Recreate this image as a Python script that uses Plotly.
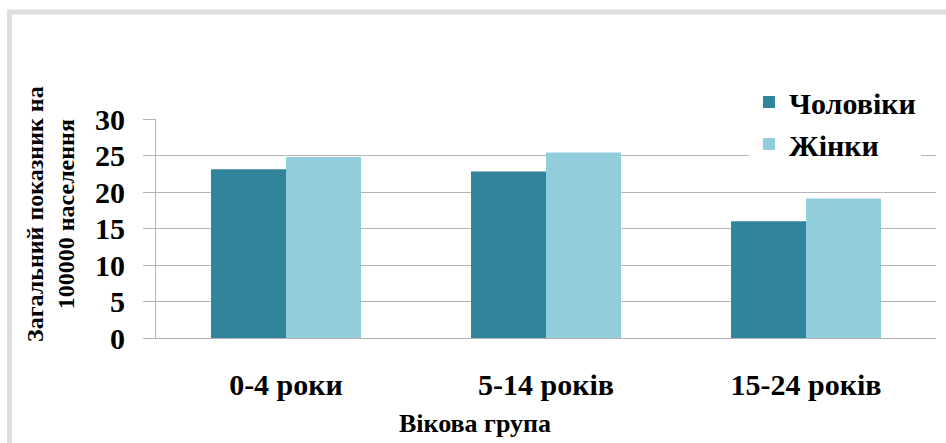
import plotly.graph_objects as go

categories = ["0-4 роки", "5-14 років", "15-24 років"]
men = [23.1, 22.8, 16.0]
women = [24.8, 25.4, 19.1]
series_names = ["Чоловіки", "Жінки"]
y_ticks = [0, 5, 10, 15, 20, 25, 30]

FONT = "Liberation Serif"
W, H = 946, 443
L, R, T, B = 156, 10, 119, 105
PW = W - L - R
PH = H - T - B

def px_x(px):
    return (px - L) / PW

def px_y(py):
    return (H - B - py) / PH

fig = go.Figure()
fig.add_trace(go.Bar(name=series_names[0], x=categories, y=men, marker=dict(color="#31849B", line=dict(width=0))))
fig.add_trace(go.Bar(name=series_names[1], x=categories, y=women, marker=dict(color="#92CDDC", line=dict(width=0))))

fig.update_layout(
    width=W, height=H,
    margin=dict(l=L, r=R, t=T, b=B, pad=0, autoexpand=False),
    paper_bgcolor="white", plot_bgcolor="white",
    barmode="group", bargap=0.423, bargroupgap=0,
    font=dict(family=FONT, color="black", weight="bold"),
    showlegend=True,
    legend=dict(
        x=px_x(749), y=px_y(76), xanchor="left", yanchor="top",
        bgcolor="white", font=dict(family=FONT, size=30, weight="bold", color="black"),
        traceorder="normal", itemclick=False,
    ),
    xaxis=dict(
        automargin=False,
        showline=True, linecolor="#b4b4b4", linewidth=1,
        showgrid=False, ticks="", tickfont=dict(family=FONT, size=30, weight="bold"),
        ticklabelstandoff=20,
    ),
    yaxis=dict(
        automargin=False,
        range=[0, 30], tickvals=y_ticks, showline=True, linecolor="#b4b4b4", linewidth=1,
        showgrid=True, gridcolor="#b4b4b4", gridwidth=1, zeroline=False,
        ticks="outside", ticklen=12, tickcolor="#b4b4b4",
        tickfont=dict(family=FONT, size=30, weight="bold"),
        ticklabelstandoff=12,
    ),
    shapes=[
        dict(type="line", xref="paper", yref="paper", x0=px_x(9.5), x1=px_x(9.5), y0=px_y(10), y1=px_y(450),
             line=dict(color="#dedede", width=5)),
        dict(type="line", xref="paper", yref="paper", x0=px_x(7), x1=px_x(950), y0=px_y(12), y1=px_y(12),
             line=dict(color="#dedede", width=5)),
    ],
    annotations=[
        dict(text="Вікова група", xref="paper", yref="paper", x=px_x(475), y=px_y(423),
             showarrow=False, xanchor="center", yanchor="middle",
             font=dict(family=FONT, size=26, weight="bold", color="black")),
        dict(text="Загальний показник на<br>100000 населення", xref="paper", yref="paper",
             x=px_x(50), y=px_y(214), showarrow=False, textangle=-90,
             xanchor="center", yanchor="middle",
             font=dict(family=FONT, size=24, weight="bold", color="black")),
    ],
)

fig.write_html(
    "out.html",
    config={"displayModeBar": False, "staticPlot": True},
    post_script="document.body.style.margin='0';document.body.style.padding='0';document.body.style.overflow='hidden';",
)
